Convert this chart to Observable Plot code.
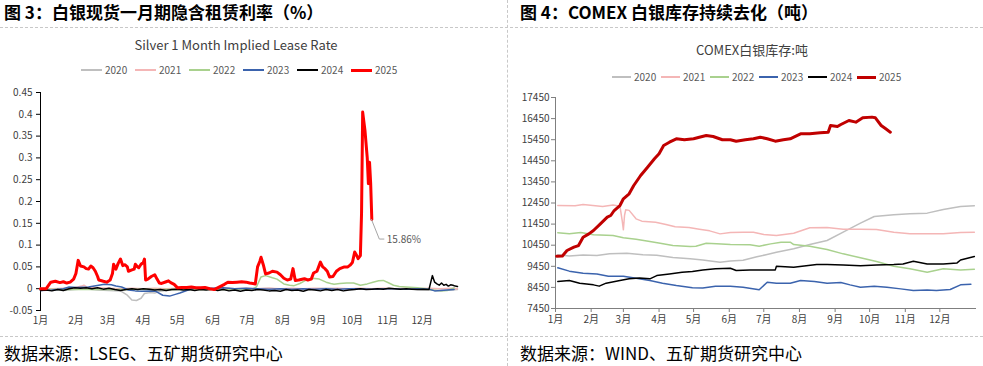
<!DOCTYPE html>
<html><head><meta charset="utf-8">
<script src="https://cdn.jsdelivr.net/npm/d3@7"></script>
<script src="https://cdn.jsdelivr.net/npm/@observablehq/plot@0.6"></script>
<style>
html,body{margin:0;padding:0;background:#fff;}
#page{position:relative;width:983px;height:366px;overflow:hidden;font-family:"Noto Sans CJK SC","Noto Sans",sans-serif;}
.abs{position:absolute;white-space:nowrap;}
.title{font-weight:700;font-size:17px;color:#000;top:2px;line-height:20px;}
.hdash{position:absolute;height:0;border-top:1px dashed #c8c8c8;}
.vdash{position:absolute;width:0;border-left:1px dashed #c8c8c8;}
.ctitle{font-size:13px;color:#404040;transform:translateX(-50%);line-height:16px;}
.legend{font-size:10px;color:#595959;display:flex;line-height:12px;}
.item{display:inline-flex;align-items:center;}
.sw{display:inline-block;height:0;margin-right:3px;}
.foot{font-size:17px;color:#000;top:343px;line-height:19px;}
.chart{position:absolute;}
</style></head>
<body><div id="page">
<div class="abs title" style="left:4px">图 3：白银现货一月期隐含租赁利率（%）</div>
<div class="abs title" style="left:520px">图 4：COMEX 白银库存持续去化（吨）</div>
<div class="hdash" style="left:0;top:27px;width:983px"></div>
<div class="hdash" style="left:0;top:336px;width:983px"></div>
<div class="vdash" style="left:507px;top:0;height:366px"></div>
<div class="abs ctitle" id="t1" style="left:236px;top:37px"></div>
<div class="abs ctitle" id="t2" style="left:752px;top:42px"></div>
<div class="abs legend" id="lg1" style="left:81px;top:64px"></div>
<div class="abs legend" id="lg2" style="left:612px;top:71px"></div>
<div class="chart" id="c1" style="left:0;top:80px"></div>
<div class="chart" id="c2" style="left:500px;top:80px"></div>
<div class="abs foot" style="left:4px">数据来源：LSEG、五矿期货研究中心</div>
<div class="abs foot" style="left:520px">数据来源：WIND、五矿期货研究中心</div>
</div>
<script>
// ---------- shared ----------
const years = ["2020","2021","2022","2023","2024","2025"];
const months = ["1月","2月","3月","4月","5月","6月","7月","8月","9月","10月","11月","12月"];
const monthStart = [0,31,59,90,120,151,181,212,243,273,304,334];
const chartTitle1 = "Silver 1 Month Implied Lease Rate";
const chartTitle2 = "COMEX白银库存:吨";
const colors1 = ["#bfbfbf","#f4b6b6","#a9d18e","#3b63ad","#000000","#ff0000"];
const colors2 = ["#bfbfbf","#f4b6b6","#a9d18e","#3b63ad","#000000","#c00000"];
const leaseTicks = [-0.05,0,0.05,0.1,0.15,0.2,0.25,0.3,0.35,0.4,0.45];
const stockTicks = [7450,8450,9450,10450,11450,12450,13450,14450,15450,16450,17450];

// ---------- chart 1: lease rate, [day of year, value] ----------
const lease2020 = [[0,-0.003],[10,-0.002],[20,-0.004],[30,-0.002],[40,0.0],[50,-0.003],[60,-0.004],[70,-0.005],[76,-0.015],[80,-0.026],[84,-0.027],[88,-0.022],[91,-0.011],[96,-0.009],[100,-0.01],[104,-0.006],[110,-0.004],[120,-0.002],[130,-0.001],[140,0.001],[150,0.0],[160,0.001],[170,0.0],[180,-0.001],[190,0.0],[200,0.001],[210,-0.001],[220,0.0],[230,-0.001],[240,0.0],[250,0.001],[260,0.0],[270,-0.001],[280,0.0],[290,-0.001],[300,0.0],[310,-0.001],[320,0.0],[330,-0.002],[340,-0.003],[350,-0.004],[360,-0.003],[365,-0.002]];
const lease2021 = [[0,0.001],[10,0.0],[20,0.001],[30,0.002],[36,0.006],[38,0.008],[41,0.003],[50,0.002],[60,0.001],[70,0.0],[80,0.001],[90,0.0],[100,0.001],[110,0.0],[120,0.001],[130,0.0],[140,0.001],[150,0.0],[160,0.001],[170,0.0],[180,0.001],[190,0.0],[200,0.001],[210,0.0],[220,0.001],[230,0.0],[240,0.001],[250,0.0],[260,0.001],[270,0.0],[280,0.001],[290,0.0],[300,0.001],[310,0.0],[320,0.001],[330,0.0],[340,0.001],[350,0.0],[360,0.001],[365,0.0]];
const lease2022 = [[0,-0.002],[15,-0.001],[30,-0.002],[45,-0.001],[60,-0.002],[75,-0.002],[90,-0.001],[105,-0.002],[120,-0.001],[135,-0.002],[150,-0.001],[165,-0.002],[180,-0.001],[186,0.0],[189,0.004],[193,0.027],[197,0.03],[203,0.025],[207,0.022],[213,0.011],[218,0.008],[222,0.007],[227,0.012],[232,0.019],[238,0.024],[244,0.022],[250,0.015],[254,0.012],[257,0.01],[262,0.012],[268,0.013],[274,0.013],[280,0.008],[286,0.011],[291,0.015],[296,0.018],[300,0.019],[305,0.013],[309,0.008],[314,0.005],[320,0.004],[330,0.002],[338,0.0],[344,-0.003],[350,-0.005],[356,-0.004],[362,0.002]];
const lease2023 = [[0,-0.004],[10,-0.003],[20,0.0],[25,0.004],[32,0.003],[42,0.004],[51,0.008],[56,0.01],[62,0.009],[66,0.006],[71,0.004],[77,-0.003],[83,-0.005],[89,-0.006],[95,-0.005],[101,-0.006],[107,-0.015],[113,-0.017],[118,-0.013],[122,-0.01],[128,-0.004],[134,0.001],[140,0.002],[150,0.001],[160,0.002],[170,0.0],[180,0.001],[190,0.0],[200,-0.001],[210,0.0],[220,-0.001],[230,0.0],[240,-0.001],[250,0.0],[260,-0.001],[270,0.0],[280,0.0],[290,-0.001],[300,0.0],[310,0.0],[320,-0.001],[330,0.0],[340,-0.001],[345,-0.005],[350,-0.004],[356,-0.003],[362,-0.002]];
const lease2024 = [[0,-0.004],[5,-0.003],[10,-0.005],[15,-0.002],[20,-0.004],[25,0.0],[30,0.002],[35,0.001],[40,0.002],[45,0.0],[50,0.002],[55,-0.001],[60,0.001],[65,-0.002],[70,-0.004],[75,-0.002],[80,0.0],[85,-0.002],[90,0.0],[95,-0.001],[100,-0.003],[105,-0.002],[110,-0.004],[115,-0.002],[120,-0.001],[125,-0.003],[130,-0.002],[135,-0.004],[140,-0.002],[145,-0.003],[150,-0.001],[155,-0.004],[160,-0.002],[165,-0.005],[170,-0.003],[175,-0.006],[180,-0.003],[185,-0.004],[190,-0.002],[195,-0.003],[200,-0.005],[205,-0.004],[210,-0.006],[215,-0.002],[220,-0.004],[225,-0.003],[230,-0.006],[235,-0.002],[240,-0.003],[245,-0.005],[250,-0.002],[255,-0.004],[260,-0.002],[265,-0.005],[270,-0.003],[275,-0.002],[280,0.0],[285,-0.002],[290,-0.001],[295,0.0],[300,-0.001],[305,0.001],[310,0.0],[315,-0.001],[320,0.0],[325,-0.001],[330,-0.002],[335,-0.001],[340,-0.002],[343,0.03],[345,0.015],[347,0.011],[349,0.008],[351,0.013],[353,0.008],[355,0.01],[357,0.006],[359,0.009],[361,0.008],[363,0.006],[365,0.005]];
const lease2025 = [[0,0],[5,0],[9,0.015],[13,0.017],[17,0.014],[20,0.016],[23,0.013],[26,0.015],[29,0.022],[31,0.035],[33,0.065],[35,0.052],[38,0.05],[40,0.046],[42,0.045],[44,0.052],[46,0.048],[48,0.04],[50,0.028],[51,0.02],[55,0.017],[58,0.015],[61,0.02],[63,0.035],[64,0.056],[66,0.045],[68,0.058],[70,0.068],[72,0.053],[74,0.055],[76,0.05],[77,0.04],[80,0.043],[82,0.045],[83,0.056],[85,0.05],[86,0.048],[88,0.056],[90,0.06],[91,0.068],[92,0.02],[94,0.022],[97,0.028],[100,0.032],[102,0.022],[104,0.013],[106,0.012],[110,0.016],[112,0.018],[114,0.014],[117,0.01],[120,0.002],[124,0.003],[128,0.003],[132,0.004],[136,0.002],[140,0.002],[144,0.003],[148,0.0],[152,-0.002],[155,0.002],[158,0.006],[161,0.01],[164,0.015],[168,0.014],[172,0.015],[176,0.016],[180,0.015],[183,0.013],[186,0.012],[188,0.011],[190,0.05],[192,0.063],[193,0.072],[195,0.055],[197,0.034],[200,0.036],[203,0.04],[207,0.038],[210,0.032],[213,0.024],[216,0.02],[219,0.022],[221,0.046],[223,0.019],[226,0.02],[231,0.023],[234,0.02],[237,0.022],[239,0.036],[242,0.04],[245,0.061],[247,0.05],[249,0.046],[251,0.04],[253,0.027],[256,0.028],[259,0.04],[262,0.046],[266,0.05],[269,0.05],[271,0.054],[273,0.06],[275,0.084],[277,0.075],[278,0.069],[280,0.076],[281,0.172],[282,0.405],[284,0.363],[286,0.3],[287,0.241],[288,0.29],[289,0.241],[290,0.1586]];

// ---------- chart 2: COMEX stocks (t), [day of year, value] ----------
const stock2020 = [[2,9995],[12,9940],[24,9990],[36,9960],[47,10040],[62,10070],[76,10000],[88,9970],[102,9870],[117,9805],[128,9750],[143,9640],[152,9700],[163,9740],[175,9900],[183,10000],[192,10120],[207,10280],[221,10483],[236,10672],[250,11066],[265,11493],[277,11810],[294,11890],[308,11935],[323,11970],[337,12142],[352,12284],[364,12316]];
const stock2021 = [[2,12331],[17,12320],[24,12378],[41,12285],[50,12350],[56,12300],[58,11600],[59,11180],[60,11870],[61,12128],[64,12100],[70,11700],[75,11590],[87,11540],[96,11430],[104,11320],[116,11290],[125,11210],[134,11130],[143,10987],[152,11050],[163,11067],[172,11060],[181,10960],[192,10909],[207,11020],[221,11275],[236,11290],[250,11210],[265,11210],[279,11190],[294,11067],[308,10987],[323,10990],[337,10987],[352,11050],[364,11060]];
const stock2022 = [[2,11037],[12,10987],[22,11050],[33,10940],[50,10909],[59,10800],[70,10735],[82,10623],[91,10545],[102,10436],[117,10387],[122,10400],[131,10545],[140,10513],[152,10482],[169,10470],[177,10403],[187,10513],[196,10592],[204,10592],[207,10482],[221,10403],[236,10246],[250,10040],[265,9853],[279,9677],[294,9455],[308,9330],[323,9170],[337,9330],[352,9280],[364,9310]];
const stock2023 = [[2,9379],[12,9220],[24,9123],[36,9090],[46,8980],[59,8980],[70,8880],[82,8777],[93,8650],[105,8540],[119,8430],[128,8420],[139,8510],[152,8510],[163,8460],[177,8335],[184,8697],[192,8650],[204,8650],[213,8777],[225,8730],[236,8650],[248,8680],[256,8570],[265,8460],[277,8500],[288,8460],[300,8380],[311,8300],[323,8330],[331,8300],[343,8350],[352,8570],[361,8600]];
const stock2024 = [[2,8730],[12,8777],[21,8650],[33,8570],[38,8510],[44,8650],[56,8777],[64,8855],[73,8900],[82,8855],[88,9010],[99,9090],[110,9170],[119,9200],[128,9280],[139,9330],[152,9360],[157,9250],[169,9280],[181,9280],[191,9280],[192,9455],[207,9400],[227,9530],[236,9530],[250,9510],[265,9480],[279,9510],[294,9530],[302,9560],[311,9690],[323,9560],[337,9560],[349,9610],[352,9750],[364,9915]];
const stock2025 = [[1,9929],[6,9940],[10,10199],[16,10355],[20,10434],[24,10829],[29,10987],[33,11147],[39,11462],[45,11778],[48,11857],[51,12094],[56,12331],[59,12649],[64,12886],[68,13279],[74,13753],[80,14146],[86,14545],[90,14782],[94,15175],[99,15332],[105,15493],[112,15446],[120,15493],[125,15568],[131,15649],[137,15600],[145,15446],[152,15450],[157,15380],[165,15446],[172,15493],[178,15568],[184,15493],[191,15380],[198,15446],[204,15493],[208,15600],[213,15727],[221,15727],[230,15775],[237,15806],[239,16123],[245,16076],[248,16170],[255,16360],[261,16281],[267,16488],[275,16520],[278,16488],[283,16123],[287,15965],[291,15806]];

const leaseSeries = [lease2020,lease2021,lease2022,lease2023,lease2024,lease2025];
const stockSeries = [stock2020,stock2021,stock2022,stock2023,stock2024,stock2025];

function toRows(series){
  return series.flatMap((arr,i)=>arr.map(([d,v])=>({day:d,value:v,year:years[i]})));
}
const monthFmt = d => months[monthStart.indexOf(d)];
const font = '"Noto Sans CJK SC","Noto Sans",sans-serif';

document.getElementById("t1").textContent = chartTitle1;
document.getElementById("t2").textContent = chartTitle2;

function legend(el, colors, itemW, swW, thickW){
  years.forEach((y,i)=>{
    const it = document.createElement("span"); it.className="item"; it.style.width=itemW+"px";
    const sw = document.createElement("span"); sw.className="sw"; sw.style.width=swW+"px";
    sw.style.borderTop = (i===5?thickW:2)+"px solid "+colors[i];
    it.appendChild(sw); it.appendChild(document.createTextNode(y));
    el.appendChild(it);
  });
}
legend(document.getElementById("lg1"), colors1, 54, 21, 3);
legend(document.getElementById("lg2"), colors2, 49, 19, 3);

// chart 1
const rows1 = toRows(leaseSeries);
const last = lease2025[lease2025.length-1];
const c1 = Plot.plot({
  width: 490, height: 252,
  marginLeft: 40, marginRight: 33, marginTop: 12, marginBottom: 22,
  style: {fontFamily: font, fontSize: "10px", color: "#404040", background: "transparent", overflow: "visible"},
  x: {domain: [0,365]},
  y: {domain: [-0.05,0.45]},
  marks: [
    Plot.axisY({ticks: leaseTicks, tickFormat: d => String(Math.round(d*100)/100), tickSize: 4, tickPadding: 4, label: null, stroke: "#000"}),
    Plot.axisX({ticks: monthStart, tickFormat: monthFmt, tickSize: 0, tickPadding: 6, label: null}),
    Plot.frame({anchor: "left", stroke: "#000"}),
    ...years.map((y,i)=>Plot.line(rows1.filter(r=>r.year===y), {x:"day", y:"value", stroke: colors1[i], strokeWidth: i===5?3:1.5, strokeLinejoin:"round"})),
    (index, scales) => {
      const px = scales.x(last[0]), py = scales.y(last[1]);
      const g = d3.create("svg:g");
      g.append("path").attr("d", `M${px},${py}L${px+8},${py+20}H${px+13}`).attr("fill","none").attr("stroke","#a6a6a6").attr("stroke-width",1);
      return g.node();
    },
    Plot.text([last], {x: d=>d[0], y: d=>d[1], text: d => (d[1]*100).toFixed(2)+"%", dx: 15, dy: 20, textAnchor: "start", fill: "#595959", fontSize: 10})
  ]
});
document.getElementById("c1").appendChild(c1);

// chart 2
const rows2 = toRows(stockSeries);
const c2 = Plot.plot({
  width: 483, height: 250,
  marginLeft: 55, marginRight: 8, marginTop: 17, marginBottom: 22,
  style: {fontFamily: font, fontSize: "10px", color: "#404040", background: "transparent", overflow: "visible"},
  x: {domain: [0,365]},
  y: {domain: [7450,17450]},
  marks: [
    Plot.axisY({ticks: stockTicks, tickFormat: d => String(d), tickSize: 4, tickPadding: 2, label: null, stroke: "#7f7f7f"}),
    Plot.axisX({ticks: monthStart, tickFormat: monthFmt, tickSize: 4, tickPadding: 3, label: null, stroke: "#7f7f7f"}),
    Plot.frame({anchor: "left", stroke: "#7f7f7f"}),
    Plot.frame({anchor: "bottom", stroke: "#7f7f7f"}),
    ...years.map((y,i)=>Plot.line(rows2.filter(r=>r.year===y), {x:"day", y:"value", stroke: colors2[i], strokeWidth: i===5?3:1.5, strokeLinejoin:"round"}))
  ]
});
document.getElementById("c2").appendChild(c2);
</script>
</body></html>
